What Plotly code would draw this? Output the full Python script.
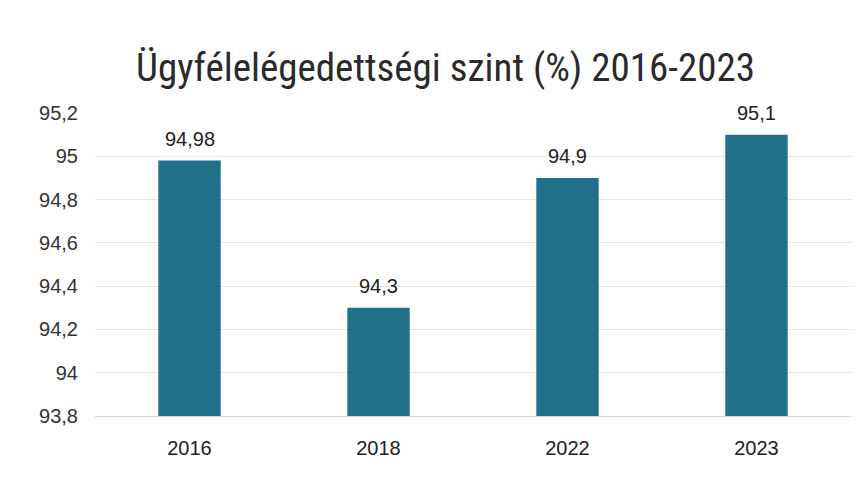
import plotly.graph_objects as go

years = ["2016", "2018", "2022", "2023"]
values = [94.98, 94.3, 94.9, 95.1]
tick_vals = [93.8, 94.0, 94.2, 94.4, 94.6, 94.8, 95.0, 95.2]
tick_text = ["93,8", "94", "94,2", "94,4", "94,6", "94,8", "95", "95,2"]
labels = [f"{v:g}".replace(".", ",") for v in values]

fig = go.Figure(go.Bar(
    x=years, y=values,
    marker=dict(color="#21708a", line=dict(width=0)),
    width=0.33,
))
for i, (v, lab) in enumerate(zip(values, labels)):
    fig.add_annotation(x=i, y=v, text=lab, showarrow=False, yanchor="bottom",
                       yshift=9, font=dict(size=20, color="#222222", family="Liberation Sans"))
fig.update_layout(
    width=865, height=483,
    margin=dict(l=95, r=14, t=113, b=67),
    paper_bgcolor="white", plot_bgcolor="white",
    title=dict(text="Ügyfélelégedettségi szint (%) 2016-2023",
               x=0.515, xanchor="center", y=0.86, yanchor="middle",
               font=dict(size=39, color="#2a2a2a", family="Roboto Condensed, Liberation Sans")),
    showlegend=False,
)
fig.update_yaxes(range=[93.8, 95.2], tickvals=tick_vals, ticktext=tick_text,
                 showgrid=True, gridcolor="#e4e4e4", gridwidth=1, automargin=False,
                 zeroline=False, showline=False, ticks="", ticklabelstandoff=16,
                 tickfont=dict(size=20, color="#333333", family="Liberation Sans"))
fig.update_xaxes(type="category", range=[-0.5, 3.5], showgrid=False, showline=True,
                 linecolor="#d9d9d9", automargin=False, ticks="", ticklabelstandoff=14,
                 tickfont=dict(size=20, color="#222222", family="Liberation Sans"))
fig.write_html("out.html", config={"displayModeBar": False},
               post_script="document.body.style.margin='0';")
